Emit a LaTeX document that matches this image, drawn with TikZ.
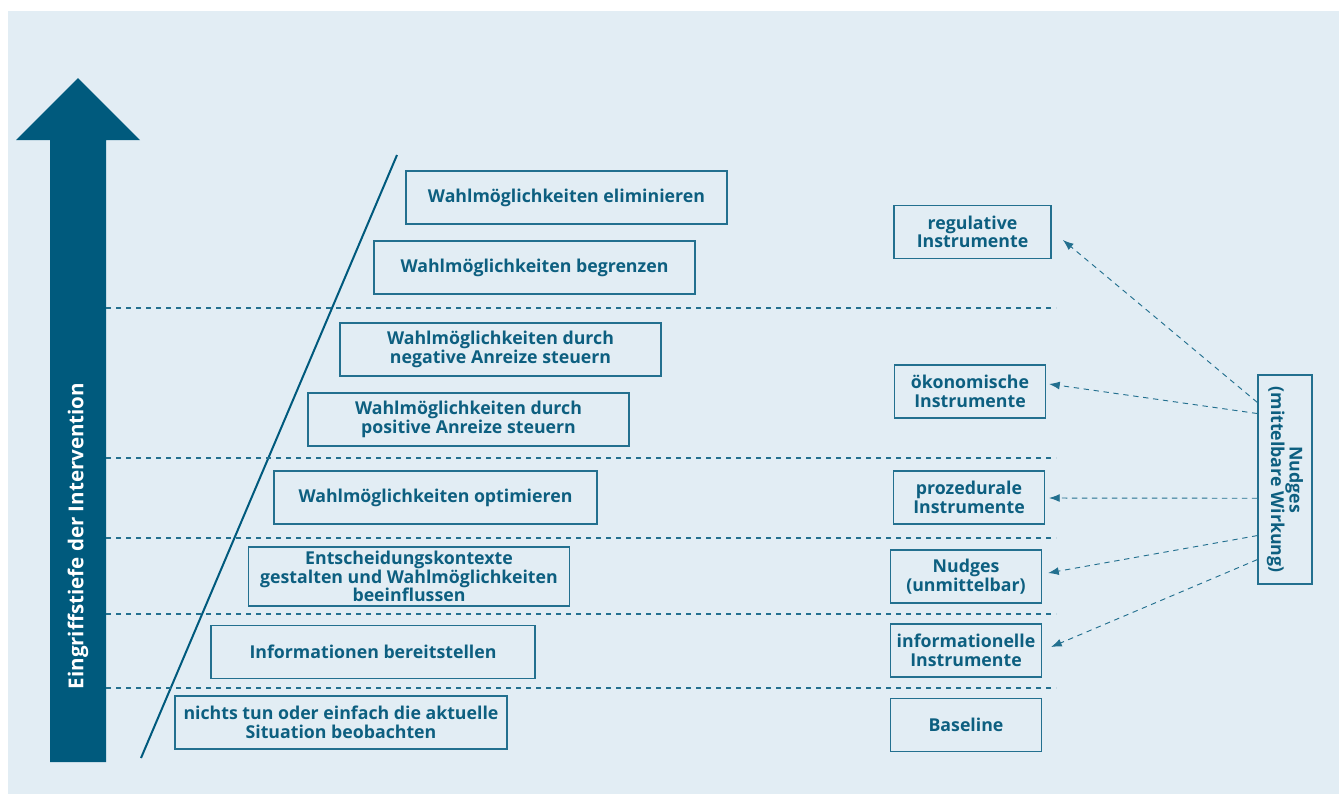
\documentclass[tikz,border=0pt]{standalone}
\usepackage{fontspec}
\setmainfont{Open Sans}
\usetikzlibrary{positioning,calc,arrows.meta}

\definecolor{paleblue}{HTML}{E2EDF4}
\definecolor{deepblue}{HTML}{005A7D}
\definecolor{lineblue}{HTML}{23708F}
\definecolor{txtblue}{HTML}{0D5F80}

\begin{document}
\begin{tikzpicture}[x=0.75pt, y=-0.75pt,
    stage/.style={draw=lineblue, line width=1.1pt, minimum width=241pt, minimum height=40pt,
      inner sep=2pt, align=center, text=txtblue, font=\bfseries\fontsize{13.3}{14}\selectfont},
    tool/.style={stage, minimum width=113pt},
    level/.style={draw=lineblue, line width=0.9pt, dash pattern=on 4pt off 3.5pt},
    hint/.style={draw=lineblue, line width=0.7pt, dash pattern=on 4pt off 3.5pt,
      -{Latex[length=8pt,width=6pt]}}]
  \useasboundingbox (0,0) rectangle (1339,794);
  \fill[paleblue] (8,11) rectangle (1339,794);

  % depth arrow on the left
  \fill[deepblue] (50,762) -- (50,140) -- (16,140) -- (78,78) -- (140,140)
    -- (106,140) -- (106,762) -- cycle;
  \node[rotate=90, text=white, font=\bfseries\fontsize{15.4}{18}\selectfont] (depth) at (78,536)
    {Eingriffstiefe der Intervention};

  % slope line
  \draw[deepblue, line width=1.5pt] (141,758) -- (397,155);

  % level separators
  \foreach \y in {308,458,538,614,688}
    \draw[level] (106,\y) -- (1056,\y);

  % intervention steps
  \node[stage] (S7) at (566.5,197.5) {Wahlmöglichkeiten eliminieren};
  \node[stage] (S6) at (534.5,267.5) {Wahlmöglichkeiten begrenzen};
  \node[stage] (S5) at (500.5,349.5) {Wahlmöglichkeiten durch\\negative Anreize steuern};
  \node[stage] (S4) at (468.5,419.5) {Wahlmöglichkeiten durch\\positive Anreize steuern};
  \node[stage, minimum width=242pt] (S3) at (435.5,497.5) {Wahlmöglichkeiten optimieren};
  \node[stage, minimum height=44pt] (S2) at (409,576.5)
    {Entscheidungskontexte\\gestalten und Wahlmöglichkeiten\\beeinflussen};
  \node[stage, minimum width=243pt] (S1) at (373,652) {Informationen bereitstellen};
  \node[stage, minimum width=249pt] (S0) at (341,722.5)
    {nichts tun oder einfach die aktuelle\\Situation beobachten};

  % instrument types
  \node[tool, minimum width=118pt] (reg) at (972.5,232) {regulative\\Instrumente};
  \node[tool] (oek) at (970,391.5) {ökonomische\\Instrumente};
  \node[tool] (proz) at (969,497.5) {prozedurale\\Instrumente};
  \node[tool] (nud) at (966,576.5) {Nudges\\(unmittelbar)};
  \node[tool] (info) at (966,650.5) {informationelle\\Instrumente};
  \node[tool] (base) at (966,725) {Baseline};

  \node[tool, rotate=-90, minimum width=157pt, minimum height=40.5pt] (mid) at (1285,479.5)
    {Nudges\\(mittelbare Wirkung)};

  % indirect nudges point to the other instruments
  \coordinate (s1) at ($(mid.south west)!0.134!(mid.south east)$);
  \coordinate (s2) at ($(mid.south west)!0.187!(mid.south east)$);
  \coordinate (s3) at ($(mid.south west)!0.589!(mid.south east)$);
  \coordinate (s4) at ($(mid.south west)!0.766!(mid.south east)$);
  \coordinate (s5) at ($(mid.south west)!0.880!(mid.south east)$);
  \coordinate (t1) at ($(reg.east)+(11,8)$);
  \coordinate (t2) at ($(oek.east)+(3,-7.5)$);
  \coordinate (t3) at ($(proz.east)+(4,0.5)$);
  \coordinate (t4) at ($(nud.east)+(6,-3.5)$);
  \coordinate (t5) at ($(info.east)+(9,-3.5)$);

  \draw[hint] (s1) -- (t1);
  \draw[hint] (s2) -- (t2);
  \draw[hint] (s3) -- (t3);
  \draw[hint] (s4) -- (t4);
  \draw[hint] (s5) -- (t5);
\end{tikzpicture}
\end{document}
